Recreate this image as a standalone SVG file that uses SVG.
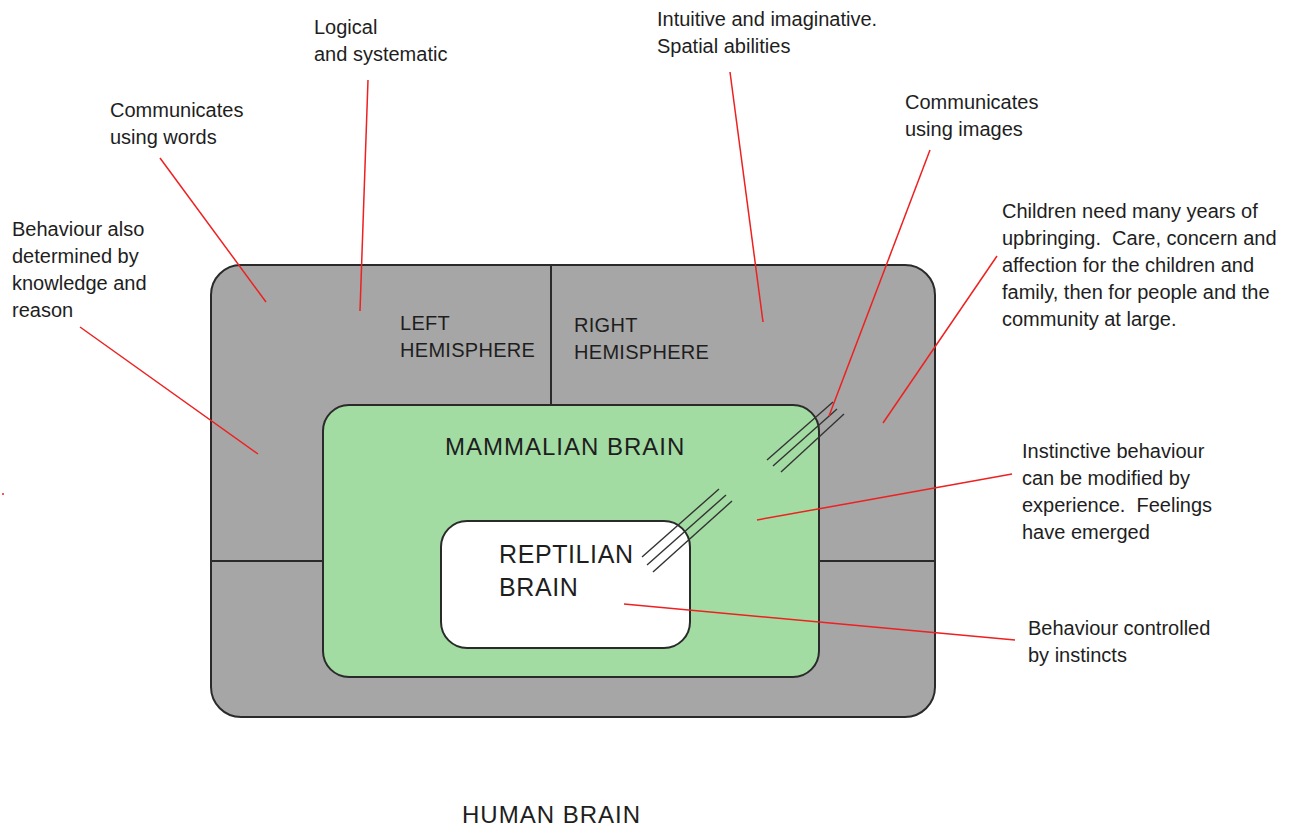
<svg xmlns="http://www.w3.org/2000/svg" width="1298" height="827" viewBox="0 0 1298 827">
<style>
.box{stroke:#2a2a2a;stroke-width:2}
.div{stroke:#2a2a2a;stroke-width:2;fill:none}
.note{font-family:"Liberation Sans",Arial,sans-serif;font-size:20px;fill:#1e1e1e}
.lbl{font-family:"Liberation Sans",Arial,sans-serif;font-size:20px;fill:#1e1e1e;letter-spacing:0.3px}
.big{font-family:"Liberation Sans",Arial,sans-serif;font-size:24px;fill:#1e1e1e;letter-spacing:1px}
.red{stroke:#ee2020;stroke-width:1.5;fill:none}
.hatch{stroke:#333;stroke-width:1.4;fill:none}
</style>
<rect width="1298" height="827" fill="#ffffff"/>
<g id="human-brain">
<rect class="box" x="211" y="265" width="724" height="452" rx="30" fill="#a6a6a6"/>
<line class="div" x1="551" y1="265" x2="551" y2="405"/>
<line class="div" x1="211" y1="561" x2="323" y2="561"/>
<line class="div" x1="819" y1="561" x2="935" y2="561"/>
<text class="lbl" x="400" y="330">LEFT</text>
<text class="lbl" x="400" y="357">HEMISPHERE</text>
<text class="lbl" x="574" y="332">RIGHT</text>
<text class="lbl" x="574" y="359">HEMISPHERE</text>
<text class="big" x="462" y="823">HUMAN BRAIN</text>
</g>
<g id="mammalian-brain">
<rect class="box" x="323" y="405" width="496" height="272" rx="26" fill="#a3dca3"/>
<text class="big" x="445" y="455">MAMMALIAN BRAIN</text>
</g>
<g id="reptilian-brain">
<rect class="box" x="441" y="521" width="249" height="127" rx="26" fill="#ffffff"/>
<text class="big" x="499" y="563" style="font-size:25px;letter-spacing:0.6px">REPTILIAN</text>
<text class="big" x="499" y="596" style="font-size:25px;letter-spacing:0.6px">BRAIN</text>
</g>
<g id="hatches">
<line class="hatch" x1="767" y1="460" x2="833" y2="402"/>
<line class="hatch" x1="773" y1="466" x2="837" y2="409"/>
<line class="hatch" x1="781" y1="472" x2="844" y2="414"/>
<line class="hatch" x1="642" y1="557" x2="719" y2="489"/>
<line class="hatch" x1="647" y1="565" x2="726" y2="495"/>
<line class="hatch" x1="653" y1="572" x2="732" y2="501"/>
</g>
<g id="notes">
<text class="note" x="314" y="34">Logical</text>
<text class="note" x="314" y="61">and systematic</text>
<text class="note" x="110" y="117">Communicates</text>
<text class="note" x="110" y="144">using words</text>
<text class="note" x="12" y="236">Behaviour also</text>
<text class="note" x="12" y="263">determined by</text>
<text class="note" x="12" y="290">knowledge and</text>
<text class="note" x="12" y="317">reason</text>
<text class="note" x="657" y="26">Intuitive and imaginative.</text>
<text class="note" x="657" y="53">Spatial abilities</text>
<text class="note" x="905" y="109">Communicates</text>
<text class="note" x="905" y="136">using images</text>
<text class="note" x="1002" y="218">Children need many years of</text>
<text class="note" x="1002" y="245" xml:space="preserve">upbringing.  Care, concern and</text>
<text class="note" x="1002" y="272">affection for the children and</text>
<text class="note" x="1002" y="299">family, then for people and the</text>
<text class="note" x="1002" y="326">community at large.</text>
<text class="note" x="1022" y="458">Instinctive behaviour</text>
<text class="note" x="1022" y="485">can be modified by</text>
<text class="note" x="1022" y="512" xml:space="preserve">experience.  Feelings</text>
<text class="note" x="1022" y="539">have emerged</text>
<text class="note" x="1028" y="635">Behaviour controlled</text>
<text class="note" x="1028" y="662">by instincts</text>
</g>
<g id="connectors">
<line class="red" x1="368" y1="80" x2="360" y2="311"/>
<line class="red" x1="160" y1="158" x2="266" y2="302"/>
<line class="red" x1="80" y1="327" x2="258" y2="454"/>
<line class="red" x1="730" y1="72" x2="763" y2="322"/>
<line class="red" x1="930" y1="150" x2="829" y2="416"/>
<line class="red" x1="997" y1="256" x2="883" y2="423"/>
<line class="red" x1="1012" y1="474" x2="757" y2="520"/>
<line class="red" x1="1015" y1="640" x2="624" y2="604"/>
<circle cx="3" cy="494" r="1" fill="#ee2020"/>
</g>
</svg>
